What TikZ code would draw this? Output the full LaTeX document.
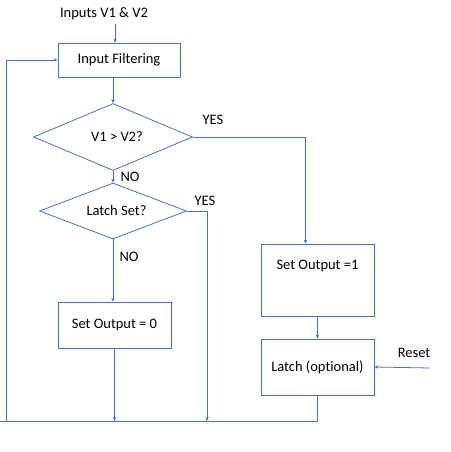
\documentclass[tikz,border=0pt]{standalone}
\usepackage{fontspec}
\setmainfont{Carlito}[Ligatures=NoCommon]
\usetikzlibrary{shapes.geometric,arrows.meta}
\definecolor{flowblue}{HTML}{4472C4}

\begin{document}
\begin{tikzpicture}[x=1pt,y=-1pt,font=\fontsize{14.5}{16}\selectfont,
  box/.style={draw=flowblue,line width=0.8pt,minimum width=113pt,inner sep=0pt},
  dec/.style={draw=flowblue,line width=0.8pt,diamond,aspect=2.4,inner sep=0pt},
  arr/.style={draw=flowblue,line width=0.8pt,-{Stealth[length=4pt,width=3.5pt]}},
  ln/.style={draw=flowblue,line width=0.8pt}]
\useasboundingbox (0,0) rectangle (450,452);
\node (inp) at (104,14) {Inputs V1 \& V2};
\node[box,minimum width=122pt,minimum height=34pt] (filt) at (119,60) {Input Filtering\hspace{11pt}};
\node[dec,minimum width=159pt,minimum height=67pt] (cmp) at (113,137) {\hspace{8pt}V1 > V2?};
\node[dec,minimum width=147pt,minimum height=56pt] (latchset) at (113,211) {\hspace{7pt}Latch Set?};
\node[box,minimum height=46pt] (zero) at (114.5,325) {Set Output = 0};
\node[box,minimum height=72pt,label={[yshift=-32pt]north:Set Output =1}] (one) at (317.5,280) {};
\node[box,minimum height=56pt] (latch) at (317.5,367) {Latch (optional)};
\node (yes1) at (213,120) {YES};
\node (no1) at (130,177) {NO};
\node (yes2) at (205,201) {YES};
\node (no2) at (129,257) {NO};
\node (reset) at (414,353) {Reset};
\coordinate (bot) at (0,421);
\coordinate (b0) at (6,421);
\coordinate (b2) at (207,421);
\coordinate (rs) at (430,368);
% connectors
\draw[arr] ([xshift=11pt]inp.south) -- ([xshift=11pt]inp.south |- filt.north);
\draw[arr] (filt.south -| cmp.north) -- (cmp.north);
\draw[arr] (cmp.east) -| ([xshift=-12pt]one.north);
\draw[arr] (cmp.south) -- (latchset.north);
\draw[arr] (latchset.east) -| (b2);
\draw[arr] (latchset.south) -- (latchset.south |- zero.north);
\draw[arr] (zero.south) -- (zero.south |- bot);
\draw[arr] (one) -- (latch);
\draw[ln] (latch.south) |- (bot);
\draw[arr] (b0) |- (filt.west);
\draw[arr] (rs) -- (latch.east);
\end{tikzpicture}
\end{document}
